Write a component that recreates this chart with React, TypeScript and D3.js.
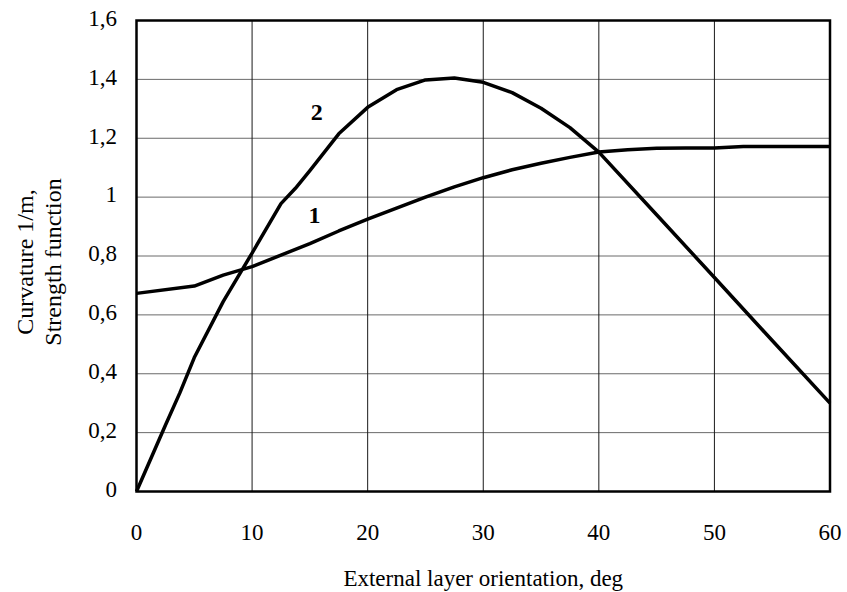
import React from 'react'
import * as d3 from 'd3'

// orientation angle, deg
const angles1 = [0, 5, 7.5, 10, 12.5, 15, 17.5, 20, 22.5, 25, 27.5, 30, 32.5, 35, 37.5, 40, 42.5, 45, 47.5, 50, 52.5, 55, 57.5, 60]
const curve1 = [0.673, 0.698, 0.735, 0.764, 0.803, 0.842, 0.885, 0.925, 0.963, 1.0, 1.035, 1.066, 1.093, 1.115, 1.135, 1.153, 1.161, 1.166, 1.167, 1.167, 1.172, 1.172, 1.172, 1.172]

const angles2 = [0, 2.5, 3.75, 5, 7.5, 10, 12.5, 13.75, 15, 17.5, 20, 22.5, 25, 27.5, 30, 32.5, 35, 37.5, 40, 45, 50, 55, 60]
const curve2 = [0, 0.225, 0.335, 0.455, 0.645, 0.81, 0.978, 1.03, 1.09, 1.215, 1.305, 1.365, 1.398, 1.405, 1.39, 1.355, 1.302, 1.236, 1.153, 0.94, 0.727, 0.513, 0.3]

const xTicks = [0, 10, 20, 30, 40, 50, 60]
const yTicks = [0, 0.2, 0.4, 0.6, 0.8, 1, 1.2, 1.4, 1.6]

const curveLabels = [
  { text: '1', x: 15.4, y: 0.93 },
  { text: '2', x: 15.6, y: 1.28 },
]

const W = 847
const H = 592
const font = '"Liberation Serif", "Times New Roman", serif'

const App = () => {
  const x = d3.scaleLinear().domain([0, 60]).range([136.5, 830])
  const y = d3.scaleLinear().domain([0, 1.6]).range([491.5, 20.5])

  const line = d3.line<number>()
  const path1 = line(angles1.map((a, i) => [x(a), y(curve1[i])]))
  const path2 = line(angles2.map((a, i) => [x(a), y(curve2[i])]))

  const fmt = (v: number) => (Number.isInteger(v) ? String(v) : v.toFixed(1).replace('.', ','))

  return (
    <svg width={W} height={H} style={{ position: 'absolute', left: 0, top: 0 }} fontFamily={font}>
      <rect width={W} height={H} fill="#fff" />
      {/* grid */}
      {yTicks.slice(1, -1).map(t => (
        <line key={'h' + t} x1={x(0)} x2={x(60)} y1={y(t)} y2={y(t)} stroke="#6a6a6a" strokeWidth={1} />
      ))}
      {xTicks.slice(1, -1).map(t => (
        <line key={'v' + t} x1={x(t)} x2={x(t)} y1={y(0)} y2={y(1.6)} stroke="#1a1a1a" strokeWidth={1} />
      ))}
      {/* frame */}
      <rect x={x(0)} y={y(1.6)} width={x(60) - x(0)} height={y(0) - y(1.6)} fill="none" stroke="#000" strokeWidth={2.5} />

      <path d={path1 ?? ''} fill="none" stroke="#000" strokeWidth={3.5} strokeLinejoin="round" />
      <path d={path2 ?? ''} fill="none" stroke="#000" strokeWidth={3.5} strokeLinejoin="round" />

      {curveLabels.map(l => (
        <text key={l.text} x={x(l.x)} y={y(l.y)} fontSize={24} fontWeight="bold" textAnchor="middle" dominantBaseline="middle">
          {l.text}
        </text>
      ))}

      {/* y tick labels */}
      {yTicks.map(t => (
        <text key={'yl' + t} x={117} y={y(t)} fontSize={23} textAnchor="end" dominantBaseline="middle">
          {fmt(t)}
        </text>
      ))}
      {/* x tick labels */}
      {xTicks.map(t => (
        <text key={'xl' + t} x={x(t)} y={540} fontSize={23} textAnchor="middle">
          {t}
        </text>
      ))}

      <text x={(x(0) + x(60)) / 2} y={586} fontSize={23} textAnchor="middle">
        External layer orientation, deg
      </text>
      <g transform="translate(33,262) rotate(-90)">
        <text x={0} y={0} fontSize={24} textAnchor="middle">Curvature 1/m,</text>
        <text x={0} y={28} fontSize={24} textAnchor="middle">Strength function</text>
      </g>
    </svg>
  )
}

export default App
